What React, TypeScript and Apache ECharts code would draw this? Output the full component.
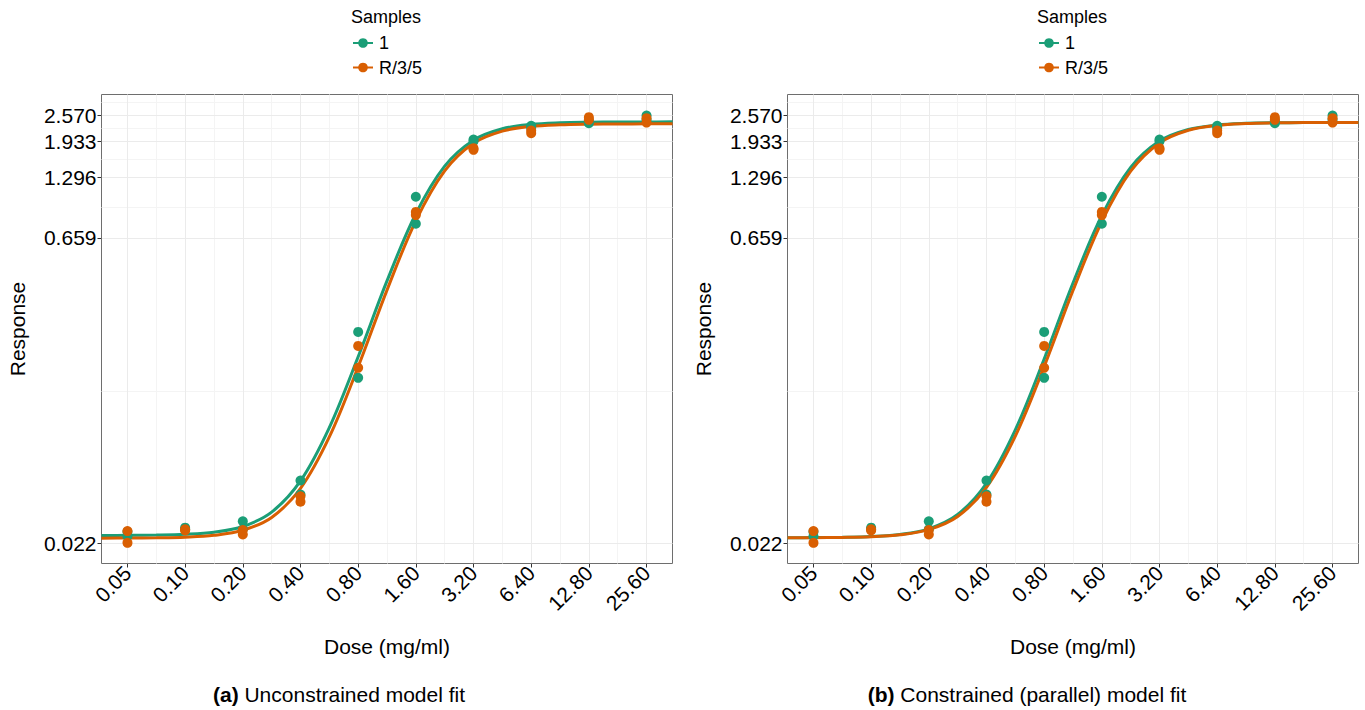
import React, { useEffect, useRef } from "react";
import * as echarts from "echarts";

// ---------- data ----------
const doses = [0.05, 0.1, 0.2, 0.4, 0.8, 1.6, 3.2, 6.4, 12.8, 25.6];

// sample "1" (two replicates per dose)
const sample1Rep1 = [0.0251, 0.0263, 0.0282, 0.0444, 0.2318, 1.0417, 1.9685, 2.292, 2.362, 2.57];
const sample1Rep2 = [0.0239, 0.0258, 0.0258, 0.038, 0.1391, 0.7717, 1.93, 2.242, 2.423, 2.45];
// sample "R/3/5"
const sampleRRep1 = [0.0253, 0.0258, 0.0256, 0.0373, 0.1984, 0.88, 1.789, 2.1757, 2.5247, 2.497];
const sampleRRep2 = [0.0222, 0.0255, 0.0244, 0.0351, 0.1554, 0.85, 1.7557, 2.1137, 2.45, 2.377];

// fitted curves, read at log2(dose / 0.05) steps
const fitSteps = [-0.45, 0, 0.5, 1, 1.5, 2, 2.5, 3, 3.5, 4, 4.5, 5, 5.5, 6, 6.5, 7, 7.5, 8, 8.5, 9, 9.45];
const fitUnconstrained1 = [0.0241, 0.02414, 0.02421, 0.02442, 0.025, 0.02663, 0.03124, 0.0442, 0.08, 0.1759, 0.4086, 0.8628, 1.465, 1.955, 2.2188, 2.3302, 2.3723, 2.3876, 2.393, 2.3949, 2.3956];
const fitUnconstrainedR = [0.0234, 0.02343, 0.02349, 0.02366, 0.02415, 0.02553, 0.02946, 0.04066, 0.07209, 0.1573, 0.3691, 0.7969, 1.3886, 1.8875, 2.1609, 2.2764, 2.3199, 2.3355, 2.341, 2.3429, 2.3436];
const fitConstrained1 = [0.0235, 0.02354, 0.02361, 0.02381, 0.02437, 0.02596, 0.03044, 0.04304, 0.07794, 0.1713, 0.3989, 0.8457, 1.4433, 1.9344, 2.2007, 2.3133, 2.356, 2.3715, 2.377, 2.3789, 2.3796];
const fitConstrainedR = [0.0235, 0.02353, 0.0236, 0.02378, 0.02428, 0.02572, 0.02977, 0.0411, 0.0727, 0.1575, 0.3671, 0.7908, 1.3842, 1.8958, 2.1826, 2.3062, 2.3534, 2.3705, 2.3766, 2.3788, 2.3795];

const yTickValues = [0.022, 0.659, 1.296, 1.933, 2.57];
const yTickLabels = ["0.022", "0.659", "1.296", "1.933", "2.570"];
const sampleNames = ["1", "R/3/5"];

// ---------- style ----------
const GREEN = "#1B9E77";
const ORANGE = "#D95F02";
const FONT = '"Liberation Sans", Arial, Helvetica, sans-serif';
const X_MIN = -0.45;
const X_MAX = 9.45;
const Y_MIN = -4.037;
const Y_MAX = 1.178;

const toX = (d: number) => Math.log2(d / 0.05);
const toY = (v: number) => Math.log(v);

const xMajor = doses.map(toX);
const xMinor: number[] = [];
for (let i = 0; i < xMajor.length - 1; i++) xMinor.push((xMajor[i] + xMajor[i + 1]) / 2);
const yMajor = yTickValues.map(toY);
const yMinor: number[] = [];
for (let i = 0; i < yMajor.length - 1; i++) yMinor.push((yMajor[i] + yMajor[i + 1]) / 2);
{
  const n = yMajor.length;
  const extra = yMajor[n - 1] + (yMajor[n - 1] - yMajor[n - 2]) / 2;
  if (extra < Y_MAX) yMinor.push(extra);
}

function pointsOf(rep1: number[], rep2: number[]) {
  const out: number[][] = [];
  doses.forEach((d, i) => {
    out.push([toX(d), toY(rep1[i])]);
    out.push([toX(d), toY(rep2[i])]);
  });
  return out;
}

function buildPanel(idx: number, left: number, fit1: number[], fitR: number[]) {
  const grid = {
    left,
    top: 94.5,
    width: 571,
    height: 469,
    show: true,
    borderColor: "#6e6e6e",
    borderWidth: 1,
    backgroundColor: "#fff",
  };
  const labelStyle = { fontSize: 21, color: "#000", fontFamily: FONT };
  const xAxes = [
    {
      type: "value",
      gridIndex: idx,
      min: X_MIN,
      max: X_MAX,
      position: "bottom",
      axisLine: { show: false, onZero: false },
      axisTick: { show: true, length: 4, lineStyle: { color: "#333", width: 1 }, customValues: xMajor },
      axisLabel: {
        customValues: xMajor,
        rotate: 45,
        margin: 6,
        formatter: (v: number) => (0.05 * Math.pow(2, v)).toFixed(2),
        ...labelStyle,
      },
      splitLine: { show: true, lineStyle: { color: "#EBEBEB", width: 1 } },
      name: "Dose (mg/ml)",
      nameLocation: "middle",
      nameGap: 72,
      nameTextStyle: { ...labelStyle },
      z: 1,
    },
    {
      type: "value",
      gridIndex: idx,
      min: X_MIN,
      max: X_MAX,
      position: "top",
      axisLine: { show: false, onZero: false },
      axisTick: { show: false, customValues: xMinor },
      axisLabel: { show: false, customValues: xMinor },
      splitLine: { show: true, lineStyle: { color: "#F4F4F4", width: 1 } },
      z: 0,
    },
  ];
  const yAxes = [
    {
      type: "value",
      gridIndex: idx,
      min: Y_MIN,
      max: Y_MAX,
      position: "left",
      axisLine: { show: false, onZero: false },
      axisTick: { show: true, length: 4, lineStyle: { color: "#333", width: 1 }, customValues: yMajor },
      axisLabel: {
        customValues: yMajor,
        margin: 5,
        formatter: (v: number) => {
          let best = 0;
          yMajor.forEach((m, i) => {
            if (Math.abs(m - v) < Math.abs(yMajor[best] - v)) best = i;
          });
          return yTickLabels[best];
        },
        ...labelStyle,
      },
      splitLine: { show: true, lineStyle: { color: "#EBEBEB", width: 1 } },
      name: "Response",
      nameLocation: "middle",
      nameGap: 74,
      nameTextStyle: { ...labelStyle },
      z: 1,
    },
    {
      type: "value",
      gridIndex: idx,
      min: Y_MIN,
      max: Y_MAX,
      position: "right",
      axisLine: { show: false, onZero: false },
      axisTick: { show: false, customValues: yMinor },
      axisLabel: { show: false, customValues: yMinor },
      splitLine: { show: true, lineStyle: { color: "#F4F4F4", width: 1 } },
      z: 0,
    },
  ];
  const xi = idx * 2;
  const yi = idx * 2;
  const lineSeries = (name: string, fit: number[], color: string, z: number) => ({
    type: "line",
    name,
    xAxisIndex: xi,
    yAxisIndex: yi,
    data: fitSteps.map((s, i) => [s, toY(fit[i])]),
    smooth: 0.35,
    symbol: "circle",
    symbolSize: 10,
    showSymbol: false,
    lineStyle: { color, width: 3 },
    itemStyle: { color },
    silent: true,
    z,
  });
  const pointSeries = (name: string, data: number[][], color: string, z: number) => ({
    type: "scatter",
    name,
    xAxisIndex: xi,
    yAxisIndex: yi,
    data,
    symbol: "circle",
    symbolSize: 10,
    itemStyle: { color, opacity: 1 },
    silent: true,
    z,
  });
  const series = [
    lineSeries(sampleNames[0], fit1, GREEN, 2),
    lineSeries(sampleNames[1], fitR, ORANGE, 3),
    pointSeries(sampleNames[0], pointsOf(sample1Rep1, sample1Rep2), GREEN, 4),
    pointSeries(sampleNames[1], pointsOf(sampleRRep1, sampleRRep2), ORANGE, 5),
  ];
  return { grid, xAxes, yAxes, series };
}

function buildOption() {
  const a = buildPanel(0, 101.5, fitUnconstrained1, fitUnconstrainedR);
  const b = buildPanel(1, 787.5, fitConstrained1, fitConstrainedR);
  const legendBase = {
    orient: "vertical",
    top: 34,
    itemWidth: 20,
    itemHeight: 12,
    itemGap: 6.5,
    padding: 0,
    selectedMode: false,
    data: sampleNames,
    textStyle: { fontSize: 18, color: "#000", fontFamily: FONT, lineHeight: 18, padding: [0, 0, 0, 1] },
  };
  const titleStyle = { fontSize: 18, fontWeight: "normal", color: "#000", fontFamily: FONT };
  return {
    animation: false,
    backgroundColor: "#fff",
    textStyle: { fontFamily: FONT },
    title: [
      { text: "Samples", left: 351, top: 8, padding: 0, textStyle: titleStyle },
      { text: "Samples", left: 1037, top: 8, padding: 0, textStyle: titleStyle },
    ],
    legend: [
      { ...legendBase, left: 352 },
      { ...legendBase, left: 1038 },
    ],
    grid: [a.grid, b.grid],
    xAxis: [...a.xAxes, ...b.xAxes],
    yAxis: [...a.yAxes, ...b.yAxes],
    series: [...a.series, ...b.series],
    graphic: [
      {
        type: "text",
        x: 339,
        y: 694,
        style: {
          text: "{b|(a)} Unconstrained model fit",
          fontSize: 21,
          fontFamily: FONT,
          fill: "#000",
          align: "center",
          verticalAlign: "middle",
          rich: { b: { fontWeight: "bold", fontSize: 21, fontFamily: FONT, fill: "#000" } },
        },
      },
      {
        type: "text",
        x: 1027,
        y: 694,
        style: {
          text: "{b|(b)} Constrained (parallel) model fit",
          fontSize: 21,
          fontFamily: FONT,
          fill: "#000",
          align: "center",
          verticalAlign: "middle",
          rich: { b: { fontWeight: "bold", fontSize: 21, fontFamily: FONT, fill: "#000" } },
        },
      },
    ],
  };
}

export default function App() {
  const ref = useRef<HTMLDivElement>(null);
  useEffect(() => {
    if (!ref.current) return;
    const chart = echarts.init(ref.current, null, { renderer: "svg" });
    chart.setOption(buildOption() as any);
    return () => chart.dispose();
  }, []);
  return (
    <div
      ref={ref}
      style={{ position: "fixed", left: 0, top: 0, width: 1365, height: 710, background: "#fff" }}
    />
  );
}
